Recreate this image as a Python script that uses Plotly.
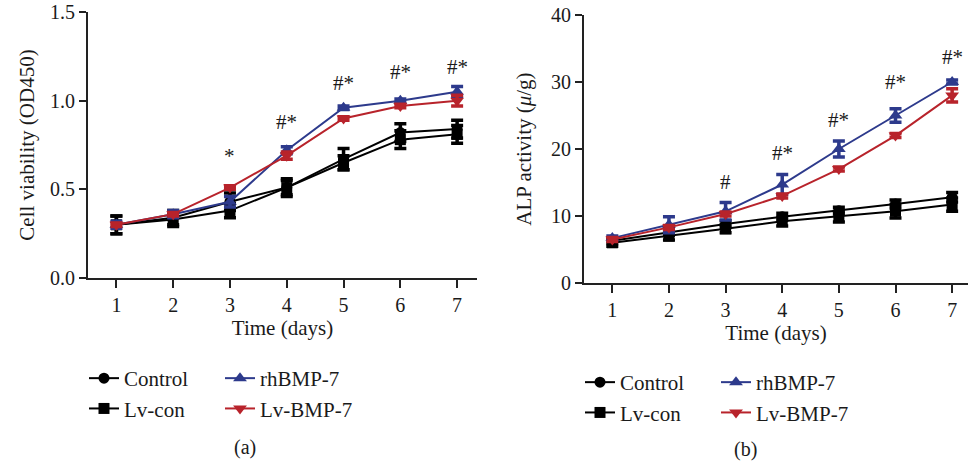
import plotly.graph_objects as go

days = [1, 2, 3, 4, 5, 6, 7]
series_names = ["Control", "Lv-con", "rhBMP-7", "Lv-BMP-7"]

# Panel (a): cell viability (OD450)
via_control = [0.30, 0.34, 0.43, 0.51, 0.67, 0.82, 0.84]
via_lvcon = [0.30, 0.33, 0.38, 0.51, 0.65, 0.78, 0.81]
via_rhbmp7 = [0.30, 0.36, 0.43, 0.72, 0.96, 1.00, 1.05]
via_lvbmp7 = [0.30, 0.36, 0.51, 0.69, 0.90, 0.97, 1.00]
via_control_err = [0.05, 0.04, 0.05, 0.05, 0.06, 0.05, 0.05]
via_lvcon_err = [0.05, 0.04, 0.04, 0.04, 0.04, 0.05, 0.05]
via_rhbmp7_err = [0.02, 0.02, 0.03, 0.02, 0.01, 0.01, 0.03]
via_lvbmp7_err = [0.01, 0.01, 0.01, 0.02, 0.01, 0.01, 0.03]

# Panel (b): ALP activity (u/g)
alp_control = [6.3, 7.6, 8.8, 9.9, 10.8, 11.8, 12.8]
alp_lvcon = [6.0, 7.0, 8.1, 9.2, 9.9, 10.7, 11.7]
alp_rhbmp7 = [6.7, 8.7, 10.7, 14.7, 20.0, 25.0, 30.0]
alp_lvbmp7 = [6.5, 8.3, 10.3, 13.0, 17.0, 22.0, 28.0]
alp_control_err = [0.4, 0.5, 0.5, 0.5, 0.5, 0.6, 0.7]
alp_lvcon_err = [0.5, 0.6, 0.6, 0.7, 0.8, 1.0, 1.0]
alp_rhbmp7_err = [0.3, 1.2, 1.3, 1.5, 1.2, 1.0, 0.3]
alp_lvbmp7_err = [0.3, 0.3, 0.3, 0.3, 0.3, 0.3, 1.0]

# Significance marks
via_sig_days = [3, 4, 5, 6, 7]
via_sig_text = ["*", "#*", "#*", "#*", "#*"]
via_sig_y = [0.69, 0.88, 1.10, 1.16, 1.19]
alp_sig_days = [3, 4, 5, 6, 7]
alp_sig_text = ["#", "#*", "#*", "#*", "#*"]
alp_sig_y = [15.1, 19.4, 24.3, 30.0, 33.7]

FONT = "Liberation Serif"
BLUE = "#2d3a8c"
RED = "#b8232b"
BLACK = "#000000"
TXT = "#1a1a1a"

W, H = 968, 462

fig = go.Figure()

styles = {
    "Control": dict(color=BLACK, symbol="circle", size=11),
    "Lv-con": dict(color=BLACK, symbol="square", size=11),
    "rhBMP-7": dict(color=BLUE, symbol="triangle-up", size=12),
    "Lv-BMP-7": dict(color=RED, symbol="triangle-down", size=12),
}

panel_a = {
    "Control": (via_control, via_control_err),
    "Lv-con": (via_lvcon, via_lvcon_err),
    "rhBMP-7": (via_rhbmp7, via_rhbmp7_err),
    "Lv-BMP-7": (via_lvbmp7, via_lvbmp7_err),
}
panel_b = {
    "Control": (alp_control, alp_control_err),
    "Lv-con": (alp_lvcon, alp_lvcon_err),
    "rhBMP-7": (alp_rhbmp7, alp_rhbmp7_err),
    "Lv-BMP-7": (alp_lvbmp7, alp_lvbmp7_err),
}

legend_map_a = {"Control": "legend", "Lv-con": "legend", "rhBMP-7": "legend2", "Lv-BMP-7": "legend2"}
legend_map_b = {"Control": "legend3", "Lv-con": "legend3", "rhBMP-7": "legend4", "Lv-BMP-7": "legend4"}

draw_order = ["Control", "Lv-con", "rhBMP-7", "Lv-BMP-7"]

for panel, xa, ya, lmap in [(panel_a, "x", "y", legend_map_a), (panel_b, "x2", "y2", legend_map_b)]:
    for name in draw_order:
        vals, errs = panel[name]
        st = styles[name]
        fig.add_trace(go.Scatter(
            x=days, y=vals, name=name, mode="lines+markers",
            xaxis=xa, yaxis=ya, legend=lmap[name],
            line=dict(color=st["color"], width=2),
            marker=dict(color=st["color"], symbol=st["symbol"], size=st["size"]),
            error_y=dict(type="data", array=errs, visible=True, color=st["color"],
                         thickness=3.5, width=6),
        ))

for d, t, yv in zip(via_sig_days, via_sig_text, via_sig_y):
    fig.add_annotation(x=d, y=yv, xref="x", yref="y", text=t, showarrow=False,
                       font=dict(family=FONT, size=21, color=TXT))
for d, t, yv in zip(alp_sig_days, alp_sig_text, alp_sig_y):
    fig.add_annotation(x=d, y=yv, xref="x2", yref="y2", text=t, showarrow=False,
                       font=dict(family=FONT, size=21, color=TXT))

fig.add_annotation(x=245 / W, y=1 - 447 / H, xref="paper", yref="paper", text="(a)",
                   xanchor="center", yanchor="middle",
                   showarrow=False, font=dict(family=FONT, size=20, color=TXT))
fig.add_annotation(x=745 / W, y=1 - 449 / H, xref="paper", yref="paper", text="(b)",
                   xanchor="center", yanchor="middle",
                   showarrow=False, font=dict(family=FONT, size=20, color=TXT))

axis_common = dict(
    showline=True, linecolor="#222", linewidth=2, ticks="outside", tickwidth=2,
    tickcolor="#222", showgrid=False, zeroline=False, automargin=False,
    tickfont=dict(family=FONT, size=20, color=TXT),
)

fig.update_layout(
    width=W, height=H,
    margin=dict(l=0, r=0, t=0, b=0, autoexpand=False),
    paper_bgcolor="white", plot_bgcolor="white",
    font=dict(family=FONT, size=20, color=TXT),
    xaxis=dict(domain=[88 / W, 477 / W], range=[0.5, 7.35], tickvals=days, ticklen=8,
               anchor="y", title=dict(text="Time (days)", standoff=5,
                                      font=dict(family=FONT, size=21)), **axis_common),
    yaxis=dict(domain=[1 - 278 / H, 1 - 12 / H], range=[0, 1.5], tickvals=[0, 0.5, 1.0, 1.5],
               tickformat=".1f", ticklen=7, anchor="x",
               title=dict(text="Cell viability (OD450)", standoff=10,
                          font=dict(family=FONT, size=21)), **axis_common),
    xaxis2=dict(domain=[584 / W, 1.0], range=[0.5, 7.28], tickvals=days, ticklen=8,
                anchor="y2", title=dict(text="Time (days)", standoff=5,
                                        font=dict(family=FONT, size=21)), **axis_common),
    yaxis2=dict(domain=[1 - 283 / H, 1 - 15 / H], range=[0, 40], tickvals=[0, 10, 20, 30, 40],
                ticklen=7, anchor="x2",
                title=dict(text="ALP activity (<i>μ</i>/g)", standoff=14,
                           font=dict(family=FONT, size=21)), **axis_common),
    showlegend=True,
)

leg_common = dict(bgcolor="rgba(0,0,0,0)", borderwidth=0, orientation="v",
                  font=dict(family=FONT, size=21, color=TXT),
                  xanchor="left", yanchor="top", tracegroupgap=0, itemwidth=30)
fig.update_layout(
    legend=dict(x=84 / W, y=1 - 358 / H, **leg_common),
    legend2=dict(x=220 / W, y=1 - 358 / H, **leg_common),
    legend3=dict(x=580 / W, y=1 - 362 / H, **leg_common),
    legend4=dict(x=716 / W, y=1 - 362 / H, **leg_common),
)

fig.write_html("out.html", config={"displayModeBar": False},
               post_script="document.body.style.margin='0';document.body.style.overflow='hidden';")
